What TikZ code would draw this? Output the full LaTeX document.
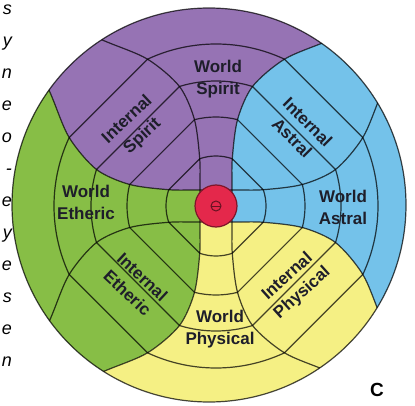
\documentclass[tikz,border=0pt]{standalone}
\usepackage{fontspec}
\setmainfont{Liberation Sans}
\usetikzlibrary{calc}

\definecolor{spirit}{HTML}{9673B4}
\definecolor{astral}{HTML}{74C2EA}
\definecolor{physical}{HTML}{F5F084}
\definecolor{etheric}{HTML}{87BE46}
\definecolor{core}{HTML}{E4284B}
\definecolor{ink}{HTML}{1E1E2A}

\begin{document}
\begin{tikzpicture}[x=1pt,y=1pt]
	\tikzset{
		grid line/.style={draw=black,opacity=.72,line width=1.2pt},
		world/.style={font=\bfseries\fontsize{17}{22}\selectfont,text=ink,align=center,inner sep=0pt},
		margin/.style={font=\itshape\fontsize{18}{18}\selectfont,anchor=base east,inner sep=0pt}
	}
	\useasboundingbox (0,0) rectangle (415,405);

	\coordinate (C) at (216,199);
	\coordinate (O) at (209,200);

	% the four colour fields and their grid
	\begin{scope}
		\clip (O) circle (197);
		\foreach \ang/\col in {0/spirit,90/etheric,180/physical,270/astral}{
			\begin{scope}[shift={(C)},rotate=\ang]
				\fill[\col] plot[smooth] coordinates {(16,0) (50:25) (71:50) (76:89) (73:125) (65:162) (56:199) (50:240)}
					-- (0,300) -- plot[smooth] coordinates {(140:240) (146:199) (155:162) (163:125) (166:89) (161:50) (140:25) (0,16)} -- cycle;
			\end{scope}
		}
		\foreach \ang in {0,90,180,270}{
			\begin{scope}[shift={(C)},rotate=\ang]
				\draw[grid line] plot[smooth] coordinates {(16,0) (50:25) (71:50) (76:89) (73:125) (65:162) (56:199) (50:240)};
				\draw[grid line,xscale=-1] plot[smooth] coordinates {(16,0) (50:25) (71:50) (76:89) (73:125) (65:162) (56:199) (50:240)};
				\foreach \rad/\bend in {50/71,89/76,125/73,162/65}{
					\draw[grid line] (\bend:\rad) arc[start angle=\bend,end angle=180-\bend,radius=\rad];
					\draw[grid line] ({180-\bend}:\rad) -- ({90+\bend}:\rad);
				}
			\end{scope}
		}
	\end{scope}
	\draw[black,opacity=.72,line width=1.2pt] (O) circle (197);

	% centre
	\fill[core] (C) circle (21);
	\draw[core!55!black,line width=1.2pt] (C) circle (21);
	\draw[core!45!black,line width=1pt] (C) circle (5);
	\draw[core!45!black,line width=1pt] ($(C)+(-5,0)$) -- ($(C)+(5,0)$);

	\node[world] (wspirit) at (218,326) {World\\Spirit};
	\node[world,rotate=43] (ispirit) at (135,277) {Internal\\Spirit};
	\node[world,rotate=-45] (iastral) at (300,275) {Internal\\Astral};
	\node[world] (wastral) at (343,198) {World\\Astral};
	\node[world,rotate=42] (iphysical) at (295,120) {Internal\\Physical};
	\node[world] (wphysical) at (220,76) {World\\Physical};
	\node[world,rotate=-43] (ietheric) at (135,120) {Internal\\Etheric};
	\node[world] (wetheric) at (86,203) {World\\Etheric};

	\node[font=\bfseries\fontsize{19}{19}\selectfont,inner sep=0pt] (tag) at (377,15) {C};

	% cut-off ends of the text column
	\foreach \ch [count=\i from 0] in {s,y,n,e,o,-,e,y,e,s,e,n}
		\node[margin] (m\i) at (12,{405-14.5-32*\i}) {\ch};

\end{tikzpicture}
\end{document}
